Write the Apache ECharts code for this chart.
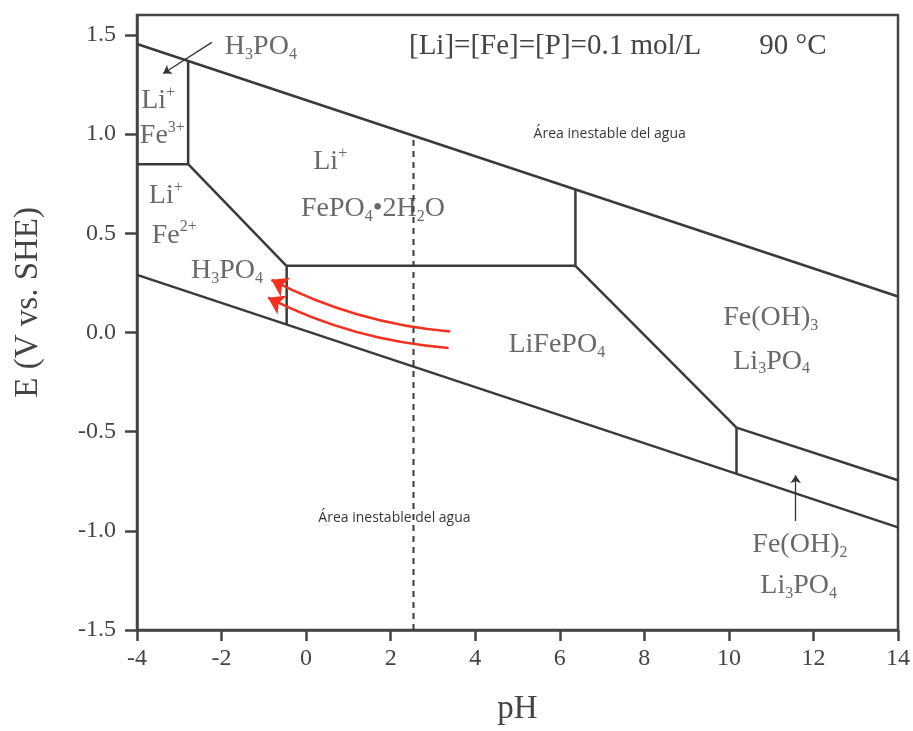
<!DOCTYPE html>
<html>
<head>
<meta charset="utf-8">
<script src="https://cdn.jsdelivr.net/npm/echarts@6/dist/echarts.min.js"></script>
<style>html,body{margin:0;padding:0;background:#fff;}#c{width:913px;height:731px;}</style>
</head>
<body>
<div id="c"></div>
<script>
// ---- axis settings ----
const xMin = -4, xMax = 14, xStep = 2;
const yMin = -1.5, yMax = 1.6, yStep = 0.5;

// ---- boundary lines (pH, E) ----
const upperWater = [[-4, 1.454], [14, 0.181]];
const lowerWater = [[-4, 0.29], [14, -0.983]];
const fe3Fe2 = [[-4, 0.848], [-2.79, 0.848]];
const fe3Vertical = [[-2.79, 0.848], [-2.79, 1.369]];
const fe2Slant = [[-2.79, 0.848], [-0.46, 0.334]];
const fe2Vertical = [[-0.46, 0.334], [-0.46, 0.04]];
const fepo4Bottom = [[-0.46, 0.336], [6.37, 0.336]];
const fepo4Vertical = [[6.37, 0.336], [6.37, 0.721]];
const feoh3Slant = [[6.37, 0.336], [10.18, -0.48]];
const feoh2Top = [[10.18, -0.48], [14, -0.745]];
const feoh2Vertical = [[10.18, -0.48], [10.18, -0.711]];
const dashedLine = [[2.54, -1.5], [2.54, 0.992]];

// ---- arrows (from, to) ----
const redArrow1 = [[3.41, 0.005], [-0.82, 0.265]];
const redArrow2 = [[3.37, -0.078], [-0.9, 0.175]];
const leaderArrow = [[-2.23, 1.462], [-3.38, 1.305]];
const smallArrow = [[11.58, -0.95], [11.58, -0.72]];

// ---- region labels: [pH, E, text] ----
const regionLabels = [
  [-1.07, 1.44, '{n|H}{sub|3}{n|PO}{sub|4}'],
  [-3.50, 1.17, '{n|Li}{sup|+}'],
  [-3.40, 0.99, '{n|Fe}{sup|3+}'],
  [-3.32, 0.69, '{n|Li}{sup|+}'],
  [-3.12, 0.49, '{n|Fe}{sup|2+}'],
  [-1.87, 0.31, '{n|H}{sub|3}{n|PO}{sub|4}'],
  [0.57, 0.86, '{n|Li}{sup|+}'],
  [1.58, 0.625, '{n|FePO}{sub|4}{n|•2H}{sub|2}{n|O}'],
  [5.93, -0.06, '{n|LiFePO}{sub|4}'],
  [10.99, 0.075, '{n|Fe(OH)}{sub|3}'],
  [11.01, -0.145, '{n|Li}{sub|3}{n|PO}{sub|4}'],
  [11.68, -1.07, '{n|Fe(OH)}{sub|2}'],
  [11.65, -1.275, '{n|Li}{sub|3}{n|PO}{sub|4}']
];
const waterLabels = [
  [7.18, 1.0, 'Área inestable del agua'],
  [2.09, -0.937, 'Área inestable del agua']
];
const headerText = '[Li]=[Fe]=[P]=0.1 mol/L        90 °C';
const xName = 'pH';
const yName = 'E (V vs. SHE)';

const serif = '"Liberation Serif", "Times New Roman", serif';
const gray = '#444';
const lineColor = '#3a3a3a';

const solidBoundaries = [upperWater, lowerWater, fe3Fe2, fe3Vertical, fe2Slant, fe2Vertical,
  fepo4Bottom, fepo4Vertical, feoh3Slant, feoh2Top, feoh2Vertical];

const chart = echarts.init(document.getElementById('c'), null, {renderer: 'canvas'});
chart.setOption({
  animation: false,
  backgroundColor: '#fff',
  title: {
    text: headerText,
    left: 409, top: 32, padding: 0,
    textStyle: {fontFamily: serif, fontSize: 29, fontWeight: 'normal', color: gray}
  },
  graphic: [{
    type: 'text', left: 12, top: 207, rotation: Math.PI / 2,
    style: {text: yName, fontFamily: serif, fontSize: 33, fill: gray}
  }],
  grid: {left: 137, right: 13, top: 15, bottom: 100, show: true, borderColor: gray, borderWidth: 2.5, backgroundColor: 'transparent'},
  xAxis: {
    type: 'value', min: xMin, max: xMax, interval: xStep,
    name: xName, nameLocation: 'middle', nameGap: 63,
    nameTextStyle: {fontFamily: serif, fontSize: 33, color: gray},
    axisLine: {show: true, onZero: false, lineStyle: {color: gray, width: 2.5}},
    axisTick: {show: true, inside: false, length: 11, lineStyle: {color: gray, width: 2.5}},
    axisLabel: {fontFamily: serif, fontSize: 24, color: gray, margin: 17},
    splitLine: {show: false}
  },
  yAxis: {
    type: 'value', min: yMin, max: yMax, interval: yStep,
    axisLine: {show: true, onZero: false, lineStyle: {color: gray, width: 2.5}},
    axisTick: {show: true, inside: false, length: 12, lineStyle: {color: gray, width: 2.5}},
    axisLabel: {fontFamily: serif, fontSize: 24, color: gray, margin: 21, showMaxLabel: false,
      formatter: v => (Math.abs(v - yMax) < 1e-9 ? '' : v.toFixed(1))},
    splitLine: {show: false}
  },
  series: [
    {
      type: 'lines', coordinateSystem: 'cartesian2d', polyline: true, silent: true,
      lineStyle: {color: lineColor, width: 2.5, opacity: 1},
      data: solidBoundaries.map(c => ({coords: c})),
      z: 3
    },
    {
      type: 'lines', coordinateSystem: 'cartesian2d', polyline: true, silent: true,
      lineStyle: {color: lineColor, width: 2, opacity: 1, type: [6, 5]},
      data: [{coords: dashedLine}],
      z: 2
    },
    {
      type: 'lines', coordinateSystem: 'cartesian2d', silent: true,
      symbol: ['none', 'arrow'], symbolSize: 16,
      lineStyle: {color: '#f5301f', width: 2.5, opacity: 1, curveness: 0.1},
      data: [{coords: redArrow1}, {coords: redArrow2}],
      z: 4
    },
    {
      type: 'lines', coordinateSystem: 'cartesian2d', silent: true,
      symbol: ['none', 'arrow'], symbolSize: 8,
      lineStyle: {color: '#333', width: 1.3, opacity: 1, curveness: 0},
      data: [{coords: leaderArrow}, {coords: smallArrow}],
      z: 4
    },
    {
      type: 'scatter', silent: true, symbolSize: 0,
      data: regionLabels.map(r => ({value: [r[0], r[1]], text: r[2]})),
      label: {
        show: true, position: 'inside',
        formatter: p => p.data.text,
        fontFamily: serif, fontSize: 28, color: gray,
        rich: {
          n: {fontFamily: serif, fontSize: 28, color: gray, lineHeight: 32},
          sub: {fontFamily: serif, fontSize: 16, color: gray, lineHeight: 16, verticalAlign: 'bottom'},
          sup: {fontFamily: serif, fontSize: 16, color: gray, lineHeight: 16, verticalAlign: 'top'}
        }
      },
      z: 5
    },
    {
      type: 'scatter', silent: true, symbolSize: 0,
      data: waterLabels.map(r => ({value: [r[0], r[1]], text: r[2]})),
      label: {
        show: true, position: 'inside',
        formatter: p => p.data.text,
        fontFamily: '"Open Sans", "Noto Sans", sans-serif', fontSize: 14, color: '#000'
      },
      z: 5
    }
  ]
});
</script>
</body>
</html>
